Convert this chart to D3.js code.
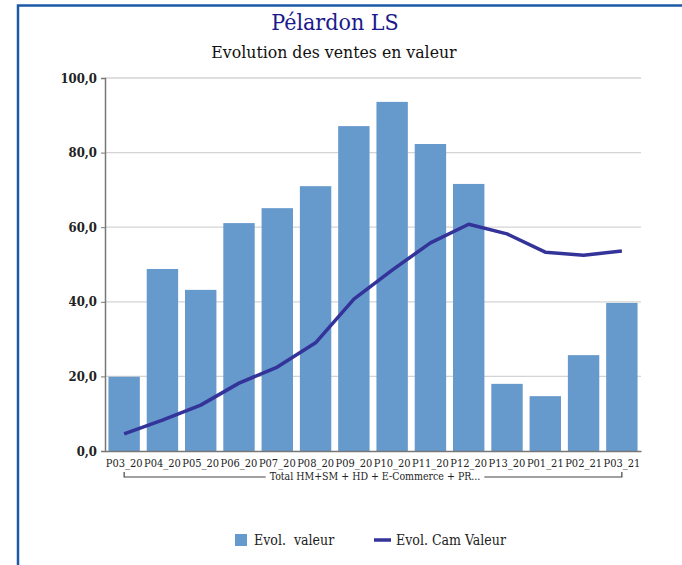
<!DOCTYPE html>
<html><head><meta charset="utf-8">
<script src="https://cdn.jsdelivr.net/npm/d3@7"></script>
<style>body{margin:0;background:#fff}svg{display:block}</style>
</head><body>
<script>
const categories = ["P03_20","P04_20","P05_20","P06_20","P07_20","P08_20","P09_20","P10_20","P11_20","P12_20","P13_20","P01_21","P02_21","P03_21"];
const evolValeur = [19.9,48.8,43.2,61.1,65.1,71.0,87.1,93.6,82.3,71.6,18.0,14.7,25.7,39.7];
const evolCam = [4.6,8.3,12.3,18.2,22.5,29.0,40.7,48.5,55.8,60.8,58.2,53.3,52.5,53.6];
const yTicks = [0,20,40,60,80,100];
const groupLabel = "Total HM+SM + HD + E-Commerce + PR...";
const title = "Pélardon LS", subtitle = "Evolution des ventes en valeur";

(function(){
const W=682,H=565, font="'DejaVu Serif Condensed', 'DejaVu Serif', serif";
const svg=d3.select("body").append("svg").attr("width",W).attr("height",H);
// frame
svg.append("path").attr("d","M18,565 L18,5.5 L682,5.5").attr("fill","none").attr("stroke","#1c5aa6").attr("stroke-width",2.5);

const pL=105,pR=641,pT=78,pB=451;
const x=d3.scaleBand().domain(categories).range([pL,pR]).paddingInner(0.18).paddingOuter(0.09);
const y=d3.scaleLinear().domain([0,100]).range([pB,pT]);

svg.append("text").attr("x",335).attr("y",30).attr("text-anchor","middle").attr("font-family",font).attr("font-size",23).attr("fill","#1a1a8c").text(title);
svg.append("text").attr("x",334).attr("y",58).attr("text-anchor","middle").attr("font-family",font).attr("font-size",17.5).attr("fill","#111").text(subtitle);

// grid
svg.append("g").selectAll("line").data(yTicks.filter(d=>d>0)).join("line")
  .attr("x1",pL).attr("x2",pR).attr("y1",d=>y(d)).attr("y2",d=>y(d))
  .attr("stroke","#d4d4d4").attr("stroke-width",1.3);

// y axis
const ya=svg.append("g").attr("transform",`translate(${pL},0)`)
  .call(d3.axisLeft(y).tickValues(yTicks).tickSize(4).tickFormat(d=>d.toFixed(1).replace(".",",")));
ya.select(".domain").attr("stroke","#777").attr("stroke-width",1.5);
ya.selectAll(".tick line").attr("stroke","#777");
ya.selectAll("text").attr("font-family",font).attr("font-size",13).attr("font-weight","bold").attr("fill","#222").attr("x",-8);

// bars
svg.append("g").selectAll("rect").data(evolValeur).join("rect")
  .attr("x",(d,i)=>x(categories[i])).attr("width",x.bandwidth())
  .attr("y",d=>y(d)).attr("height",d=>pB-y(d)).attr("fill","#6699cc");

// x axis
const xa=svg.append("g").attr("transform",`translate(0,${pB})`).call(d3.axisBottom(x).tickSize(0).tickPadding(8));
xa.select(".domain").attr("stroke","#777").attr("stroke-width",1.5);
xa.selectAll("text").attr("font-family",font).attr("font-size",11).attr("fill","#222");

// line
const line=d3.line().x((d,i)=>x(categories[i])+x.bandwidth()/2).y(d=>y(d));
svg.append("path").datum(evolCam).attr("d",line).attr("fill","none").attr("stroke","#333399").attr("stroke-width",3.5).attr("stroke-linejoin","round");

// group bracket
const gx1=x(categories[0])+x.bandwidth()/2, gx2=x(categories[categories.length-1])+x.bandwidth()/2, gy=477;
const gt=svg.append("text").attr("x",375).attr("y",gy+3).attr("text-anchor","middle").attr("font-family",font).attr("font-size",10.5).attr("fill","#222").text(groupLabel);
const bb=gt.node().getBBox();
svg.append("path").attr("d",`M${gx1},${gy-5} L${gx1},${gy} L${bb.x-4},${gy} M${bb.x+bb.width+4},${gy} L${gx2},${gy} L${gx2},${gy-5}`)
  .attr("fill","none").attr("stroke","#444").attr("stroke-width",1.2);

// legend
const lg=svg.append("g");
lg.append("rect").attr("x",235).attr("y",534).attr("width",12).attr("height",12).attr("fill","#6699cc");
lg.append("text").attr("x",254).attr("y",545).attr("font-family",font).attr("font-size",14).attr("fill","#222").attr("xml:space","preserve").text("Evol.  valeur");
lg.append("line").attr("x1",374).attr("x2",391).attr("y1",540).attr("y2",540).attr("stroke","#333399").attr("stroke-width",3.5);
lg.append("text").attr("x",396).attr("y",545).attr("font-family",font).attr("font-size",14).attr("fill","#222").text("Evol. Cam Valeur");
})();
</script>
</body></html>
